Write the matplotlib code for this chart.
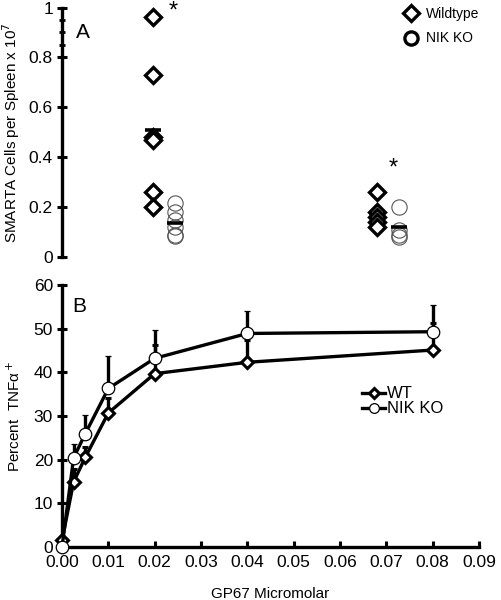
import numpy as np
import matplotlib
matplotlib.use('Agg')
import matplotlib.pyplot as plt
from matplotlib.lines import Line2D

plt.rcParams['font.family'] = ['Liberation Sans', 'DejaVu Sans']

# Panel A: SMARTA cells per spleen (x 10^7), two groups
wt_group1 = [0.96, 0.73, 0.48, 0.47, 0.26, 0.20]
ko_group1 = [0.215, 0.18, 0.15, 0.12, 0.09, 0.085]
wt_group2 = [0.26, 0.18, 0.16, 0.14, 0.12]
ko_group2 = [0.20, 0.11, 0.09, 0.08]
wt_means = [0.51, 0.175]
ko_means = [0.135, 0.122]

# Panel B: percent TNFa+ vs GP67 concentration
conc = [0.0, 0.0025, 0.005, 0.01, 0.02, 0.04, 0.08]
wt_tnf = [1.5, 14.9, 20.5, 30.7, 39.7, 42.3, 45.1]
wt_err = [0.5, 3.0, 2.5, 3.5, 6.5, 5.2, 6.1]
ko_tnf = [0.0, 20.4, 25.9, 36.3, 43.2, 48.9, 49.3]
ko_err = [0.0, 3.2, 4.3, 7.4, 6.6, 5.1, 6.1]

xticks = [0.0, 0.01, 0.02, 0.03, 0.04, 0.05, 0.06, 0.07, 0.08, 0.09]

fig = plt.figure(figsize=(5.01, 6.0), dpi=100)

# ---- panel A ----
axA = fig.add_axes([0.1238, 0.5717, 0.832, 0.4158])
axA.set_xlim(0, 0.09)
axA.set_ylim(0, 1)
for s in ['top', 'right', 'bottom']:
    axA.spines[s].set_visible(False)
axA.spines['left'].set_linewidth(2.4)
axA.set_xticks([])
axA.set_yticks([0, 0.2, 0.4, 0.6, 0.8, 1.0])
axA.set_yticklabels(['0', '0.2', '0.4', '0.6', '0.8', '1'])
axA.set_yticks([0.85, 0.9, 0.95], minor=True)
axA.tick_params(axis='y', which='major', direction='inout', length=7, width=2.2,
                labelsize=12.5, pad=3)
axA.tick_params(axis='y', which='minor', direction='inout', length=4, width=2)
axA.set_ylabel('SMARTA Cells per Spleen x 10$^7$', fontsize=11, labelpad=5)

pos_wt = [0.0196, 0.0681]
pos_ko = [0.0245, 0.0727]
for xp, vals in zip(pos_wt, [wt_group1, wt_group2]):
    axA.plot([xp] * len(vals), vals, linestyle='none', marker='D', markersize=8.5,
             markerfacecolor='white', markeredgecolor='black', markeredgewidth=2.4,
             clip_on=False, zorder=3)
for xp, vals in zip(pos_ko, [ko_group1, ko_group2]):
    axA.plot([xp] * len(vals), vals, linestyle='none', marker='o', markersize=11,
             fillstyle='none', markeredgecolor='#555555', markeredgewidth=0.8,
             clip_on=False, zorder=3)
axA.plot(pos_wt, wt_means, linestyle='none', marker='_', markersize=12,
         markeredgewidth=2.6, color='black', zorder=2)
axA.plot(pos_ko, ko_means, linestyle='none', marker='_', markersize=12,
         markeredgewidth=2.6, color='black', zorder=4)

axA.text(0.0241, 0.985, '*', fontsize=17, ha='center', va='center', clip_on=False)
axA.text(0.0716, 0.355, '*', fontsize=17, ha='center', va='center')
axA.text(0.0045, 0.9, 'A', fontsize=15, ha='center', va='center')

legA = [Line2D([], [], linestyle='none', marker='D', markersize=8,
               markerfacecolor='white', markeredgecolor='black', markeredgewidth=2.4),
        Line2D([], [], linestyle='none', marker='o', markersize=9.5,
               markerfacecolor='white', markeredgecolor='black', markeredgewidth=2.4)]
axA.legend(legA, ['Wildtype', 'NIK KO'], loc='upper left', bbox_to_anchor=(0.8, 1.03),
           frameon=False, fontsize=10, handlelength=1.2, handletextpad=0.5,
           labelspacing=0.75, borderpad=0)

# ---- panel B ----
axB = fig.add_axes([0.1238, 0.0883, 0.832, 0.4367])
axB.set_xlim(0, 0.09)
axB.set_ylim(0, 60)
for s in ['top', 'right']:
    axB.spines[s].set_visible(False)
axB.spines['left'].set_linewidth(2.4)
axB.spines['bottom'].set_linewidth(2.4)
axB.set_xticks(xticks)
axB.set_xticklabels(['%.2f' % v for v in xticks])
axB.set_yticks([0, 10, 20, 30, 40, 50, 60])
axB.tick_params(axis='y', direction='inout', length=7, width=2.2, labelsize=12.5, pad=3)
axB.tick_params(axis='x', direction='in', length=4, width=2.2, labelsize=12.5, pad=6)
axB.set_ylabel('Percent  TNF\u03b1$^+$', fontsize=11, labelpad=8)
axB.set_xlabel('GP67 Micromolar', fontsize=11, labelpad=12)

axB.errorbar(conc, wt_tnf, yerr=[np.zeros(len(wt_err)), wt_err], color='black',
             linewidth=2.4, elinewidth=2.4, capsize=2.5, capthick=2.4, marker='D',
             markersize=6, markerfacecolor='white', markeredgecolor='black',
             markeredgewidth=2.2, clip_on=False, zorder=3, label='WT')
axB.errorbar(conc, ko_tnf, yerr=[np.zeros(len(ko_err)), ko_err], color='black',
             linewidth=2.4, elinewidth=2.4, capsize=2.5, capthick=2.4, marker='o',
             markersize=9, markerfacecolor='white', markeredgecolor='black',
             markeredgewidth=0.9, clip_on=False, zorder=4, label='NIK KO')

axB.text(0.0038, 55, 'B', fontsize=15, ha='center', va='center')

legB = [Line2D([], [], color='black', linewidth=2.4, marker='D', markersize=5,
               markerfacecolor='white', markeredgecolor='black', markeredgewidth=2.2),
        Line2D([], [], color='black', linewidth=2.4, marker='o', markersize=7,
               markerfacecolor='white', markeredgecolor='black', markeredgewidth=0.9)]
axB.legend(legB, ['WT', 'NIK KO'], loc='upper left', bbox_to_anchor=(0.7, 0.645),
           frameon=False, fontsize=12, handlelength=1.4, handletextpad=0.1,
           labelspacing=0.0, borderpad=0)

fig.savefig('out.png', dpi=100)
